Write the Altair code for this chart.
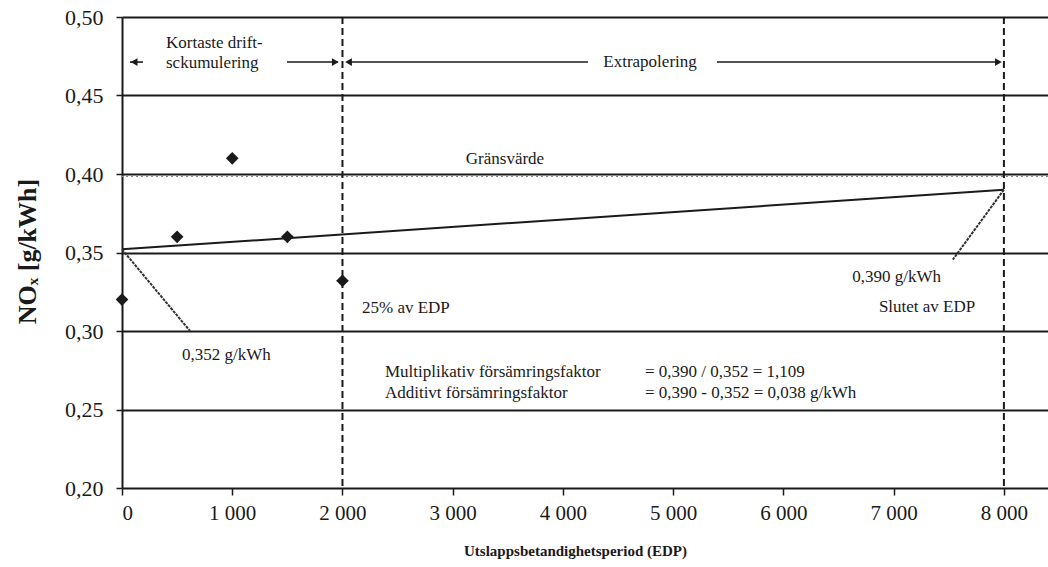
import altair as alt
import pandas as pd

FONT = "Liberation Serif"
INK = "#1a1a1a"

# measured data
edp_points = [0, 500, 1000, 1500, 2000]
nox_points = [0.320, 0.360, 0.410, 0.360, 0.332]

trend_edp = [0, 8000]
trend_nox = [0.352, 0.390]

limit_value = 0.3985
marker_edp = [2000, 8000]

x_ticks = [0, 1000, 2000, 3000, 4000, 5000, 6000, 7000, 8000]
y_ticks = [0.20, 0.25, 0.30, 0.35, 0.40, 0.45, 0.50]

# leader lines (from value point to label)
leader_x = [0, 8000]
leader_y = [0.352, 0.390]
leader_x2 = [617, 7537]
leader_y2 = [0.300, 0.3455]

# arrow segments at top
arrow_y = 0.4713
seg_x = [73, 1497, 2050, 5397]
seg_x2 = [190, 1960, 4227, 7964]
head_left_x = [110, 2055]
head_right_x = [1935, 7950]

# text annotations
left_text = ["Kortaste drift-", "sckumulering", "25% av EDP", "0,352 g/kWh",
             "Multiplikativ försämringsfaktor", "Additivt försämringsfaktor",
             "= 0,390 / 0,352 = 1,109", "= 0,390 - 0,352 = 0,038 g/kWh"]
left_x = [399, 399, 2177, 544, 2385, 2385, 4744, 4744]
left_y = [0.4834, 0.4707, 0.3147, 0.2847, 0.2739, 0.2605, 0.2739, 0.2605]

right_text = ["0,390 g/kWh", "Slutet av EDP"]
right_x = [7430, 7740]
right_y = [0.3347, 0.3156]

center_text = ["Extrapolering", "Gränsvärde"]
center_x = [4790, 3474]
center_y = [0.4713, 0.4096]

xs = alt.Scale(domain=[0, 8400], nice=False, zero=False)
ys = alt.Scale(domain=[0.2, 0.5], nice=False, zero=False)

pts = pd.DataFrame({"edp": edp_points, "nox": nox_points})
trend = pd.DataFrame({"edp": trend_edp, "nox": trend_nox})
vlines = pd.DataFrame({"edp": marker_edp})
leaders = pd.DataFrame({"x": leader_x, "y": leader_y, "x2": leader_x2, "y2": leader_y2})
segs = pd.DataFrame({"x": seg_x, "x2": seg_x2, "y": [arrow_y] * len(seg_x)})
hl = pd.DataFrame({"x": head_left_x, "y": [arrow_y] * len(head_left_x)})
hr = pd.DataFrame({"x": head_right_x, "y": [arrow_y] * len(head_right_x)})
lt = pd.DataFrame({"x": left_x, "y": left_y, "t": left_text})
rt = pd.DataFrame({"x": right_x, "y": right_y, "t": right_text})
ct = pd.DataFrame({"x": center_x, "y": center_y, "t": center_text})
lim = pd.DataFrame({"y": [limit_value]})

x_axis = alt.Axis(
    values=x_ticks, grid=False, domain=False, ticks=True, tickColor=INK,
    tickWidth=1.5, tickSize=7, labelFont=FONT, labelFontSize=21, labelColor=INK,
    labelPadding=7,
    labelExpr="datum.value == 0 ? '0' : replace(format(datum.value, ','), ',', ' ')",
    title="Utslappsbetandighetsperiod (EDP)", titleFont=FONT, titleFontSize=15,
    titleFontWeight="bold", titleColor=INK, titleX=453, titleY=62,
    titleBaseline="middle", titleAnchor="middle", titleAlign="center",
)
y_axis = alt.Axis(
    values=y_ticks, grid=True, gridColor=INK, gridWidth=1.8, gridOpacity=1,
    domain=True, domainColor=INK, domainWidth=2, ticks=True, tickColor=INK,
    tickWidth=1.5, tickSize=6, labelFont=FONT, labelFontSize=22, labelColor=INK,
    labelPadding=13,
    labelExpr="replace(format(datum.value, '.2f'), '.', ',')",
    title="NOₓ [g/kWh]", titleFont=FONT, titleFontSize=26, titleFontWeight="bold",
    titleColor=INK, titleX=-95, titleY=234, titleBaseline="middle",
    titleAlign="center", titleAngle=270,
)

base_axes = alt.Chart(pts).mark_point(opacity=0).encode(
    x=alt.X("edp:Q", scale=xs, axis=x_axis),
    y=alt.Y("nox:Q", scale=ys, axis=y_axis),
)

limit_line = alt.Chart(lim).mark_rule(color="#888888", strokeWidth=1.2, strokeDash=[2, 3]).encode(
    y=alt.Y("y:Q", scale=ys)
)

vdash = alt.Chart(vlines).mark_rule(color=INK, strokeWidth=2, strokeDash=[7, 4]).encode(
    x=alt.X("edp:Q", scale=xs)
)

trend_line = alt.Chart(trend).mark_line(color=INK, strokeWidth=2).encode(
    x=alt.X("edp:Q", scale=xs), y=alt.Y("nox:Q", scale=ys)
)

leader_lines = alt.Chart(leaders).mark_rule(color="#333333", strokeWidth=2, strokeDash=[3, 1]).encode(
    x=alt.X("x:Q", scale=xs), y=alt.Y("y:Q", scale=ys), x2="x2:Q", y2="y2:Q"
)

points = alt.Chart(pts).mark_point(shape="diamond", filled=True, color=INK, size=160, opacity=1).encode(
    x=alt.X("edp:Q", scale=xs), y=alt.Y("nox:Q", scale=ys)
)

segments = alt.Chart(segs).mark_rule(color=INK, strokeWidth=1.6).encode(
    x=alt.X("x:Q", scale=xs), x2="x2:Q", y=alt.Y("y:Q", scale=ys)
)
heads_l = alt.Chart(hl).mark_point(shape="triangle-left", filled=True, color=INK, size=60, opacity=1).encode(
    x=alt.X("x:Q", scale=xs), y=alt.Y("y:Q", scale=ys)
)
heads_r = alt.Chart(hr).mark_point(shape="triangle-right", filled=True, color=INK, size=60, opacity=1).encode(
    x=alt.X("x:Q", scale=xs), y=alt.Y("y:Q", scale=ys)
)

TS = 17
txt_l = alt.Chart(lt).mark_text(align="left", baseline="middle", font=FONT, fontSize=TS, color=INK).encode(
    x=alt.X("x:Q", scale=xs), y=alt.Y("y:Q", scale=ys), text="t:N"
)
txt_r = alt.Chart(rt).mark_text(align="right", baseline="middle", font=FONT, fontSize=TS, color=INK).encode(
    x=alt.X("x:Q", scale=xs), y=alt.Y("y:Q", scale=ys), text="t:N"
)
txt_c = alt.Chart(ct).mark_text(align="center", baseline="middle", font=FONT, fontSize=TS, color=INK).encode(
    x=alt.X("x:Q", scale=xs), y=alt.Y("y:Q", scale=ys), text="t:N"
)

chart = alt.layer(
    base_axes, limit_line, vdash, trend_line, leader_lines, points,
    segments, heads_l, heads_r, txt_l, txt_r, txt_c
).properties(
    width=926, height=471,
    padding={"left": 122, "top": 17, "right": 0, "bottom": 79},
    autosize=alt.AutoSizeParams(type="none"),
    background="white",
).configure_view(stroke=None).configure_text(font=FONT).configure(font=FONT)

chart.save("out.html", embed_options={"renderer": "svg", "actions": False})
